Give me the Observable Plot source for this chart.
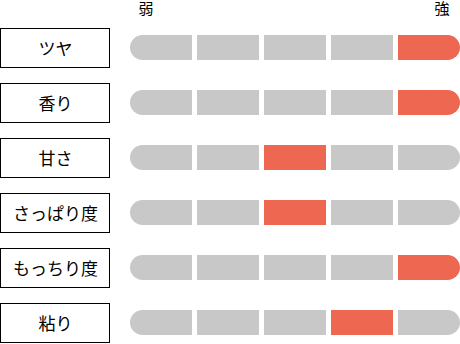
<!DOCTYPE html>
<html><head><meta charset="utf-8">
<script src="https://cdn.jsdelivr.net/npm/d3@7"></script>
<script src="https://cdn.jsdelivr.net/npm/@observablehq/plot@0.6"></script>
<style>body{margin:0;background:#fff}</style>
</head><body><div id="chart"></div>
<script>
const attributes = ["ツヤ", "香り", "甘さ", "さっぱり度", "もっちり度", "粘り"];
const ratings = [5, 5, 3, 3, 5, 4];
const levels = [1, 2, 3, 4, 5];
const scaleLabels = ["弱", "強"];

const gray = "#c8c8c8", red = "#ee6750";
const last = levels.length;
const cells = attributes.flatMap((a, i) => levels.map(l => ({attribute: a, level: l, fill: l === ratings[i] ? red : gray})));
// square part of each segment (end segments keep only their inner half square)
const body = cells.map(d => ({...d,
  x1: d.level === 1 ? d.level - 0.5 : d.level - 1,
  x2: d.level === last ? d.level - 0.5 : d.level}));
// rounded caps for the two outer segments
const caps = cells.filter(d => d.level === 1 || d.level === last);

const barInset = {insetLeft: 2.5, insetRight: 2.5, insetTop: 15, insetBottom: 15};

const chart = Plot.plot({
  width: 460, height: 344,
  marginTop: 0, marginBottom: 0, marginLeft: 0, marginRight: 0,
  style: {fontFamily: "'Noto Sans CJK JP', 'Noto Sans', sans-serif", background: "white", color: "black"},
  x: {domain: [0, last], range: [127.5, 462.5], axis: null},
  y: {type: "band", domain: attributes, range: [20, 350], padding: 0, axis: null},
  color: {type: "identity"},
  marks: [
    Plot.rect(caps, {x1: d => d.level - 1, x2: "level", y: "attribute", fill: "fill", rx: 12.5, ...barInset}),
    Plot.rect(body, {x1: "x1", x2: "x2", y: "attribute", fill: "fill", ...barInset}),
    Plot.rect(attributes, {x1: -2, x2: 0, y: d => d, fill: "white", stroke: "black", strokeWidth: 1,
      insetLeft: 7, insetRight: 18, insetTop: 8.5, insetBottom: 7.5}),
    Plot.text(attributes, {x: -1, y: d => d, text: d => d, dx: -5.5, dy: 2, fontSize: 17, fill: "black"}),
    Plot.text([scaleLabels[0]], {x: levels[0] - 1, y: () => attributes[0], text: d => d,
      textAnchor: "start", dx: 10.5, dy: -38.5, fontSize: 15, fill: "black"}),
    Plot.text([scaleLabels[1]], {x: () => last, y: () => attributes[0], text: d => d,
      textAnchor: "end", dx: -13.5, dy: -38.5, fontSize: 15, fill: "black"})
  ]
});
document.getElementById("chart").append(chart);
</script>
</body></html>
